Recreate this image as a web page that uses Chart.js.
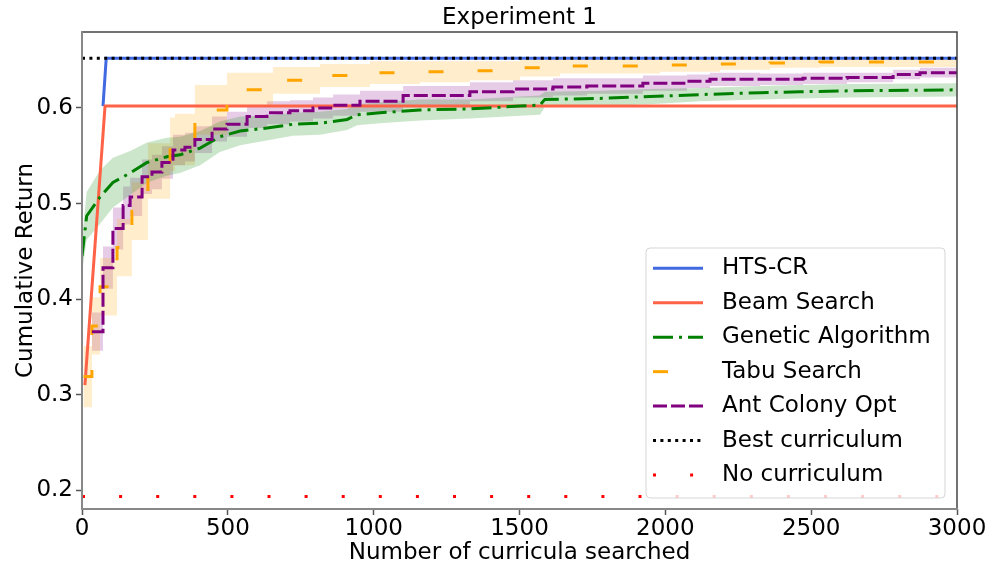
<!DOCTYPE html>
<html>
<head>
<meta charset="utf-8">
<script src="https://cdn.jsdelivr.net/npm/chart.js@4"></script>
<style>
  html, body { margin: 0; padding: 0; background: #fff; }
  canvas { display: block; }
</style>
</head>
<body>
<canvas id="chart" width="994" height="568"></canvas>
<script>
// curves: x = number of curricula searched, y = cumulative return
const htsX = [72, 83, 3000];
const htsY = [0.602, 0.652, 0.652];

const beamX = [10, 79, 3000];
const beamY = [0.310, 0.602, 0.602];

const gaX = [0, 16, 62, 106, 165, 223, 291, 336, 405, 473, 542, 634, 723, 816, 909, 943, 1022, 1159, 1330, 1502, 1570, 1587, 1776, 1947, 2119, 2325, 2462, 2633, 3000];
const gaMean = [0.445, 0.487, 0.507, 0.522, 0.532, 0.543, 0.549, 0.551, 0.558, 0.570, 0.576, 0.579, 0.583, 0.584, 0.588, 0.593, 0.595, 0.598, 0.599, 0.602, 0.603, 0.609, 0.610, 0.612, 0.614, 0.616, 0.617, 0.618, 0.619];
const gaSpread = [0.018, 0.025, 0.028, 0.026, 0.023, 0.021, 0.020, 0.019, 0.018, 0.016, 0.015, 0.013, 0.012, 0.012, 0.011, 0.011, 0.011, 0.011, 0.010, 0.010, 0.010, 0.008, 0.008, 0.008, 0.007, 0.007, 0.007, 0.007, 0.007];

const tabuX = [5, 34, 62, 120, 171, 226, 302, 319, 387, 497, 655, 816, 987, 1159, 1330, 1502, 1639, 1982, 2187, 2359, 2530, 3000];
const tabuMean = [0.319, 0.372, 0.413, 0.454, 0.492, 0.534, 0.562, 0.567, 0.598, 0.619, 0.629, 0.634, 0.637, 0.638, 0.639, 0.642, 0.644, 0.645, 0.646, 0.647, 0.648, 0.648];
const tabuSpread = [0.032, 0.030, 0.030, 0.030, 0.030, 0.029, 0.028, 0.027, 0.026, 0.018, 0.014, 0.012, 0.012, 0.011, 0.010, 0.009, 0.008, 0.007, 0.006, 0.005, 0.005, 0.005];

const acoX = [34, 72, 106, 141, 165, 206, 240, 274, 312, 353, 387, 446, 497, 566, 634, 713, 792, 861, 953, 1101, 1330, 1478, 1615, 1731, 1923, 2074, 2153, 2325, 2472, 2623, 2781, 2873, 3000];
const acoMean = [0.366, 0.433, 0.474, 0.498, 0.507, 0.528, 0.533, 0.543, 0.556, 0.559, 0.567, 0.578, 0.583, 0.591, 0.595, 0.597, 0.600, 0.603, 0.607, 0.613, 0.617, 0.620, 0.622, 0.623, 0.626, 0.628, 0.630, 0.630, 0.631, 0.632, 0.635, 0.637, 0.638];
const acoSpread = [0.020, 0.022, 0.022, 0.020, 0.020, 0.018, 0.018, 0.017, 0.016, 0.015, 0.014, 0.013, 0.013, 0.012, 0.012, 0.011, 0.011, 0.011, 0.011, 0.010, 0.010, 0.009, 0.009, 0.008, 0.008, 0.007, 0.007, 0.006, 0.006, 0.005, 0.005, 0.005, 0.005];

const bestX = [0, 3000];
const bestY = [0.652, 0.652];

const noneX = [0, 3000];
const noneY = [0.1937, 0.1937];

const yTicks = [0.2, 0.3, 0.4, 0.5, 0.6];
const xTicks = [0, 500, 1000, 1500, 2000, 2500, 3000];
const yMin = 0.1805, yMax = 0.6795;
const chartTitle = 'Experiment 1';

const pts = (xs, ys) => xs.map((x, i) => ({ x, y: ys[i] }));
const edge = (xs, mean, spread, sign) => xs.map((x, i) => ({ x, y: mean[i] + sign * spread[i] }));

Chart.defaults.font.family = '"DejaVu Sans", sans-serif';
Chart.defaults.font.size = 23;
Chart.defaults.color = '#000';

function curve(label, xs, ys, color, dash, order, extra) {
  return Object.assign({
    label, data: pts(xs, ys), borderColor: color, borderWidth: 3,
    borderDash: dash, borderCapStyle: 'butt', pointRadius: 0, fill: false,
    order, showInLegend: true
  }, extra || {});
}

function bandPair(xs, mean, spread, fillColor, stepped) {
  const common = { borderWidth: 0, borderColor: 'rgba(0,0,0,0)', pointRadius: 0, order: 20, stepped };
  return [
    Object.assign({ label: 'upper', data: edge(xs, mean, spread, 1), fill: '+1', backgroundColor: fillColor }, common),
    Object.assign({ label: 'lower', data: edge(xs, mean, spread, -1), fill: false }, common)
  ];
}

const datasets = [
  curve('HTS-CR', htsX, htsY, '#4169e1', [], 7),
  curve('Beam Search', beamX, beamY, '#ff6347', [], 6),
  curve('Genetic Algorithm', gaX, gaMean, '#008000', [20, 6, 3, 6], 5),
  curve('Tabu Search', tabuX, tabuMean, '#ffa500', [15, 35], 4, { stepped: 'before' }),
  curve('Ant Colony Opt', acoX, acoMean, '#800080', [14, 4], 3, { stepped: 'before' }),
  curve('Best curriculum', bestX, bestY, '#000000', [3, 4.4], 2),
  curve('No curriculum', noneX, noneY, '#ff0000', [3, 34.1], 1),
  ...bandPair(gaX, gaMean, gaSpread, 'rgba(0,128,0,0.2)', false),
  ...bandPair(tabuX, tabuMean, tabuSpread, 'rgba(255,165,0,0.2)', 'before'),
  ...bandPair(acoX, acoMean, acoSpread, 'rgba(128,0,128,0.2)', 'before')
];

// axes frame (light left/bottom spines, darker top/right) and the title centred over the plot
const framePlugin = {
  id: 'frame',
  afterDatasetsDraw(chart) {
    const { ctx, chartArea: a } = chart;
    ctx.save();
    ctx.lineCap = 'square';
    ctx.strokeStyle = '#444';
    ctx.lineWidth = 1.5;
    ctx.beginPath();
    ctx.moveTo(a.left, a.top);
    ctx.lineTo(a.right, a.top);
    ctx.lineTo(a.right, a.bottom);
    ctx.stroke();
    ctx.strokeStyle = '#888';
    ctx.lineWidth = 2;
    ctx.beginPath();
    ctx.moveTo(a.left, a.top);
    ctx.lineTo(a.left, a.bottom);
    ctx.lineTo(a.right, a.bottom);
    ctx.stroke();
    ctx.fillStyle = '#000';
    ctx.font = '23px "DejaVu Sans"';
    ctx.textAlign = 'center';
    ctx.textBaseline = 'middle';
    ctx.fillText(chartTitle, (a.left + a.right) / 2, a.top - 13.5);
    ctx.restore();
  }
};

// legend box in the lower right corner of the plot
const legendPlugin = {
  id: 'boxLegend',
  afterDraw(chart) {
    const { ctx, chartArea } = chart;
    const items = chart.data.datasets.filter(d => d.showInLegend);
    const w = 299, h = 250;
    const x0 = chartArea.right - 12 - w;
    const y0 = chartArea.bottom - 11 - h;
    ctx.save();
    ctx.beginPath();
    ctx.roundRect(x0, y0, w, h, 4);
    ctx.fillStyle = 'rgba(255,255,255,0.8)';
    ctx.fill();
    ctx.strokeStyle = 'rgba(204,204,204,0.8)';
    ctx.lineWidth = 1;
    ctx.stroke();
    ctx.font = '23px "DejaVu Sans"';
    ctx.textBaseline = 'middle';
    items.forEach((d, i) => {
      const y = y0 + 20.3 + i * 34.45;
      ctx.beginPath();
      ctx.setLineDash(d.borderDash);
      ctx.lineDashOffset = 0;
      ctx.lineCap = 'butt';
      ctx.strokeStyle = d.borderColor;
      ctx.lineWidth = d.borderWidth;
      ctx.moveTo(x0 + 7, y);
      ctx.lineTo(x0 + 57, y);
      ctx.stroke();
      ctx.setLineDash([]);
      ctx.fillStyle = '#000';
      ctx.fillText(d.label, x0 + 76, y);
    });
    ctx.restore();
  }
};

const tickGrid = { drawOnChartArea: false, drawTicks: true, tickLength: 6, tickColor: '#555', tickWidth: 1.5 };

new Chart(document.getElementById('chart'), {
  type: 'line',
  data: { datasets },
  options: {
    responsive: false,
    animation: false,
    devicePixelRatio: 1,
    layout: { padding: { left: 0, right: 37, top: 32, bottom: 0 } },
    plugins: {
      legend: { display: false },
      tooltip: { enabled: false },
      title: { display: false }
    },
    scales: {
      x: {
        type: 'linear', min: 0, max: 3000,
        afterBuildTicks: s => { s.ticks = xTicks.map(v => ({ value: v })); },
        ticks: { color: '#000', padding: 0, maxRotation: 0, callback: v => String(v) },
        grid: tickGrid,
        border: { display: false },
        title: { display: true, text: 'Number of curricula searched', color: '#000', padding: { top: 0, bottom: 1 } },
        afterFit: s => { s.height = 59; }
      },
      y: {
        type: 'linear', min: yMin, max: yMax,
        afterBuildTicks: s => { s.ticks = yTicks.map(v => ({ value: v })); },
        ticks: { color: '#000', padding: 3, callback: v => v.toFixed(1) },
        grid: tickGrid,
        border: { display: false },
        title: { display: true, text: 'Cumulative Return', color: '#000', padding: { top: 12, bottom: 0 } },
        afterFit: s => { s.width = 82; }
      }
    }
  },
  plugins: [framePlugin, legendPlugin]
});
</script>
</body>
</html>
